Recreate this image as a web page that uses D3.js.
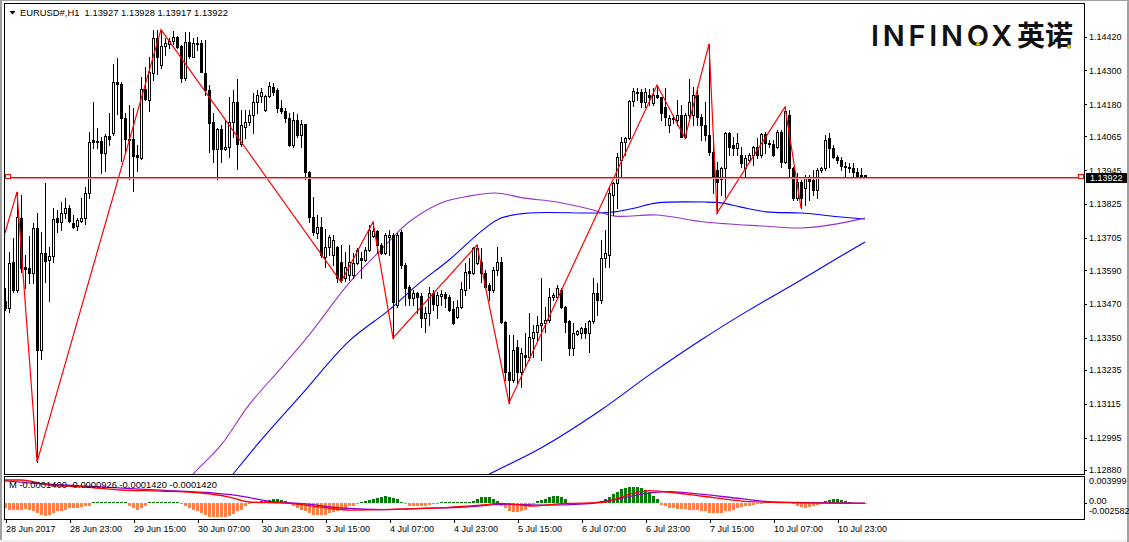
<!DOCTYPE html>
<html><head><meta charset="utf-8">
<script src="https://cdn.jsdelivr.net/npm/d3@7"></script>
<style>
body{margin:0;background:#fff;}
svg{display:block;font-family:"Liberation Sans",Arial,sans-serif;}
</style>
</head><body>
<svg id="c" width="1129" height="542"></svg>
<script>
// ---------------- DATA ----------------
const symbolTitle = "EURUSD#,H1  1.13927 1.13928 1.13917 1.13922";
const subTitle = "M -0.0001400 -0.0000926 -0.0001420 -0.0001420";
const bidPrice = 1.13922;

const opens = [
1.13480,1.13455,1.13619,1.13519,1.13775,1.13601,1.13598,1.13580,1.13740,1.13306,
1.13651,1.13626,1.13640,1.13775,1.13761,1.13793,1.13811,1.13757,1.13747,1.13765,
1.13775,1.13864,1.14052,1.14049,1.14049,1.14006,1.14066,1.14077,1.14259,1.14251,
1.14131,1.14056,1.14056,1.13999,1.13988,1.14234,1.14196,1.14291,1.14415,1.14319,
1.14387,1.14394,1.14404,1.14419,1.14387,1.14273,1.14401,1.14347,1.14397,1.14397,
1.14291,1.14230,1.14116,1.14020,1.14092,1.14020,1.14028,1.14116,1.14187,1.14038,
1.14099,1.14116,1.14141,1.14187,1.14209,1.14159,1.14209,1.14241,1.14230,1.14166,
1.14155,1.14131,1.14035,1.14124,1.14070,1.14109,1.13939,1.13779,1.13722,1.13743,
1.13637,1.13672,1.13644,1.13672,1.13619,1.13562,1.13573,1.13573,1.13615,1.13633,
1.13626,1.13662,1.13711,1.13729,1.13679,1.13651,1.13708,1.13715,1.13466,1.13725,
1.13608,1.13530,1.13491,1.13509,1.13498,1.13420,1.13438,1.13509,1.13466,1.13498,
1.13505,1.13494,1.13452,1.13424,1.13459,1.13519,1.13587,1.13580,1.13615,1.13619,
1.13580,1.13537,1.13519,1.13590,1.13619,1.13406,1.13228,1.13200,1.13317,1.13228,
1.13288,1.13281,1.13349,1.13370,1.13395,1.13402,1.13413,1.13494,1.13494,1.13519,
1.13459,1.13409,1.13313,1.13363,1.13366,1.13384,1.13366,1.13409,1.13509,1.13484,
1.13633,1.13644,1.13857,1.13900,1.13981,1.14045,1.14059,1.14191,1.14223,1.14223,
1.14187,1.14212,1.14184,1.14212,1.14205,1.14170,1.14106,1.14127,1.14124,1.14141,
1.14063,1.14141,1.14141,1.14212,1.14134,1.14106,1.14070,1.14010,1.13946,1.13914,
1.13953,1.14077,1.14035,1.14024,1.13999,1.13953,1.13981,1.13999,1.14028,1.13999,
1.14074,1.14038,1.14038,1.14028,1.14081,1.13974,1.14141,1.13953,1.13846,1.13903,
1.13882,1.13917,1.13910,1.13875,1.13946,1.13953,1.14059,1.14024,1.13992,1.13981,
1.13960,1.13957,1.13953,1.13939,1.13928,1.13927];

const highs = [
1.13526,1.13654,1.13704,1.13868,1.13857,1.13644,1.13711,1.13757,1.13793,1.13725,
1.13900,1.13672,1.13811,1.13804,1.13832,1.13846,1.13821,1.13786,1.13775,1.13846,
1.13885,1.14081,1.14187,1.14095,1.14063,1.14074,1.14148,1.14323,1.14344,1.14259,
1.14148,1.14177,1.14166,1.14035,1.14276,1.14312,1.14347,1.14443,1.14443,1.14445,
1.14415,1.14415,1.14440,1.14422,1.14390,1.14436,1.14436,1.14415,1.14419,1.14408,
1.14408,1.14248,1.14148,1.14095,1.14106,1.14124,1.14205,1.14230,1.14269,1.14159,
1.14159,1.14159,1.14219,1.14230,1.14237,1.14212,1.14259,1.14255,1.14237,1.14196,
1.14166,1.14148,1.14152,1.14145,1.14124,1.14111,1.13942,1.13850,1.13786,1.13779,
1.13736,1.13715,1.13715,1.13675,1.13679,1.13654,1.13679,1.13651,1.13669,1.13654,
1.13672,1.13750,1.13761,1.13733,1.13686,1.13722,1.13733,1.13722,1.13722,1.13733,
1.13615,1.13537,1.13519,1.13512,1.13509,1.13459,1.13530,1.13519,1.13512,1.13519,
1.13512,1.13502,1.13480,1.13484,1.13548,1.13615,1.13633,1.13672,1.13679,1.13669,
1.13590,1.13544,1.13601,1.13672,1.13637,1.13409,1.13359,1.13359,1.13342,1.13313,
1.13366,1.13438,1.13395,1.13427,1.13562,1.13459,1.13526,1.13509,1.13537,1.13526,
1.13462,1.13413,1.13402,1.13377,1.13388,1.13402,1.13413,1.13562,1.13544,1.13697,
1.13733,1.13885,1.13903,1.14006,1.14063,1.14063,1.14196,1.14237,1.14237,1.14234,
1.14237,1.14234,1.14237,1.14248,1.14207,1.14237,1.14141,1.14141,1.14196,1.14177,
1.14148,1.14269,1.14241,1.14241,1.14145,1.14187,1.14394,1.14063,1.13974,1.13957,
1.14081,1.14081,1.14063,1.14077,1.14028,1.13999,1.14006,1.14031,1.14059,1.14077,
1.14081,1.14052,1.14052,1.14088,1.14088,1.14170,1.14159,1.13957,1.13935,1.13910,
1.13928,1.13928,1.13946,1.13953,1.13957,1.14070,1.14077,1.14035,1.13999,1.13992,
1.13974,1.13971,1.13971,1.13953,1.13953,1.13928];

const lows = [
1.13448,1.13441,1.13512,1.13512,1.13583,1.13526,1.13544,1.13544,1.12908,1.13274,
1.13548,1.13480,1.13619,1.13725,1.13733,1.13775,1.13761,1.13740,1.13733,1.13761,
1.13754,1.13846,1.14024,1.14024,1.13935,1.13942,1.14035,1.14070,1.14145,1.13978,
1.14006,1.13914,1.13871,1.13942,1.13985,1.14196,1.14155,1.14266,1.14287,1.14308,
1.14355,1.14380,1.14394,1.14380,1.14259,1.14266,1.14344,1.14347,1.14372,1.14294,
1.14212,1.14010,1.13974,1.13914,1.13974,1.14017,1.13992,1.14063,1.13949,1.14031,
1.14059,1.14106,1.14077,1.14148,1.14187,1.14155,1.14205,1.14212,1.14152,1.14148,
1.14116,1.14031,1.14028,1.14063,1.14028,1.13914,1.13761,1.13715,1.13704,1.13637,
1.13601,1.13644,1.13608,1.13548,1.13548,1.13551,1.13555,1.13562,1.13612,1.13562,
1.13622,1.13658,1.13708,1.13651,1.13648,1.13648,1.13644,1.13349,1.13459,1.13598,
1.13466,1.13466,1.13466,1.13438,1.13388,1.13370,1.13395,1.13448,1.13420,1.13466,
1.13459,1.13445,1.13399,1.13420,1.13455,1.13502,1.13526,1.13576,1.13612,1.13548,
1.13526,1.13484,1.13512,1.13573,1.13402,1.13200,1.13118,1.13192,1.13189,1.13175,
1.13246,1.13271,1.13281,1.13342,1.13271,1.13370,1.13406,1.13484,1.13491,1.13455,
1.13370,1.13288,1.13288,1.13359,1.13349,1.13349,1.13299,1.13402,1.13431,1.13473,
1.13601,1.13601,1.13786,1.13811,1.13921,1.13999,1.14056,1.14173,1.14196,1.14170,
1.14170,1.14177,1.14177,1.14202,1.14124,1.14106,1.14081,1.14113,1.14106,1.14063,
1.14059,1.14131,1.14106,1.14106,1.14052,1.14052,1.13999,1.13864,1.13793,1.13857,
1.13850,1.13999,1.13999,1.13999,1.13957,1.13917,1.13974,1.13964,1.13988,1.13992,
1.14006,1.14028,1.13996,1.14024,1.13957,1.13971,1.13921,1.13839,1.13839,1.13811,
1.13821,1.13839,1.13857,1.13846,1.13939,1.13946,1.13957,1.13988,1.13971,1.13946,
1.13921,1.13939,1.13917,1.13917,1.13917,1.13917];

const closes = [
1.13455,1.13615,1.13519,1.13779,1.13598,1.13594,1.13580,1.13740,1.13306,1.13651,
1.13622,1.13640,1.13772,1.13761,1.13793,1.13811,1.13765,1.13743,1.13768,1.13775,
1.13864,1.14045,1.14045,1.14047,1.14006,1.14066,1.14056,1.14259,1.14251,1.14131,
1.14056,1.14052,1.13996,1.13992,1.14234,1.14198,1.14294,1.14415,1.14347,1.14387,
1.14397,1.14404,1.14418,1.14383,1.14273,1.14401,1.14351,1.14397,1.14394,1.14294,
1.14230,1.14113,1.14020,1.14092,1.14020,1.14028,1.14116,1.14187,1.14038,1.14106,
1.14116,1.14141,1.14187,1.14212,1.14223,1.14209,1.14244,1.14223,1.14166,1.14155,
1.14131,1.14035,1.14124,1.14070,1.14109,1.13939,1.13779,1.13725,1.13743,1.13644,
1.13672,1.13708,1.13697,1.13562,1.13555,1.13601,1.13619,1.13615,1.13662,1.13626,
1.13662,1.13733,1.13729,1.13679,1.13651,1.13715,1.13715,1.13477,1.13715,1.13608,
1.13526,1.13491,1.13509,1.13494,1.13420,1.13438,1.13509,1.13470,1.13502,1.13505,
1.13491,1.13448,1.13402,1.13459,1.13523,1.13583,1.13580,1.13669,1.13669,1.13580,
1.13530,1.13519,1.13590,1.13619,1.13406,1.13228,1.13200,1.13306,1.13228,1.13295,
1.13281,1.13352,1.13370,1.13395,1.13402,1.13413,1.13494,1.13502,1.13526,1.13459,
1.13406,1.13313,1.13366,1.13374,1.13384,1.13366,1.13409,1.13509,1.13484,1.13633,
1.13651,1.13864,1.13900,1.13992,1.14045,1.14059,1.14191,1.14227,1.14219,1.14187,
1.14223,1.14205,1.14212,1.14205,1.14148,1.14134,1.14131,1.14131,1.14141,1.14063,
1.14141,1.14187,1.14212,1.14134,1.14106,1.14070,1.14010,1.13917,1.13903,1.13953,
1.14077,1.14028,1.14024,1.14042,1.13971,1.13988,1.13999,1.14028,1.13999,1.14074,
1.14042,1.14042,1.13999,1.14081,1.13974,1.14155,1.13953,1.13846,1.13903,1.13846,
1.13917,1.13907,1.13875,1.13946,1.13953,1.14052,1.14024,1.13992,1.13981,1.13960,
1.13957,1.13953,1.13939,1.13921,1.13921,1.13922];

// ZigZag vertices (bar index, price)
const zigBars   = [0, 3, 8, 39, 84, 92, 97, 118, 126, 163, 170, 176, 178, 195, 199];
const zigPrices = [1.13722,1.13868,1.12908,1.14445,1.13548,1.13761,1.13349,1.13679,1.13118,1.14248,1.14059,1.14394,1.13793,1.14170,1.13811];

// Moving averages sampled at bar positions
const maVioletBars = [45,47,54,61,69,76,86,94,101,109,116,122.5,130,138,147,152.5,163,175,189,199,206,215];
const maVioletVals = [1.12830,1.12865,1.12968,1.13111,1.13242,1.13359,1.13544,1.13662,1.13761,1.13829,1.13853,1.13864,1.13846,1.13832,1.13804,1.13782,1.13786,1.13761,1.13747,1.13740,1.13750,1.13775];
const maBlueBars = [55,57,64,74,86,96,103,111,119.5,124,131,147,152.5,157.5,163,175,179,184,190.5,199,209,215];
const maBlueVals = [1.12830,1.12865,1.12986,1.13146,1.13338,1.13448,1.13537,1.13626,1.13733,1.13775,1.13793,1.13793,1.13797,1.13811,1.13829,1.13832,1.13829,1.13814,1.13797,1.13793,1.13779,1.13772];
const maSlowBars = [117.5,121,134,149,161,174,186,199,209,215];
const maSlowVals = [1.12837,1.12865,1.12958,1.13093,1.13217,1.13342,1.13448,1.13555,1.13640,1.13690];

// MACD-like indicator
const histVals = [
-0.0009,-0.0011,-0.0012,-0.0012,-0.0011,-0.0010,-0.0011,-0.0013,
-0.0016,-0.0020,-0.0021,-0.0020,-0.0017,-0.0014,
-0.0013,-0.0011,-0.0009,-0.0008,-0.0008,-0.0007,-0.0006,-0.0005,
0.00005,0.00005,0.00005,0.00005,0.00005,0.00005,0.00005,0.00005,0.00005,
-0.0005,-0.0009,-0.0011,-0.0009,-0.0005,
0.00005,0.00005,0.00005,0.00005,0.00005,0.00005,0.00005,0.00005,
-0.0003,-0.0005,-0.0008,-0.0011,-0.0014,-0.0016,-0.0019,-0.0022,-0.0023,-0.0023,-0.0023,-0.0022,-0.0021,-0.0018,-0.0014,-0.0011,-0.0006,-0.0003,
0.00005,0.00005,
0.0002,0.0003,0.0004,0.0005,0.0005,0.0004,0.0002,
-0.0003,-0.0005,-0.0009,-0.0012,-0.0014,-0.0017,-0.0019,-0.0020,-0.0020,-0.0019,-0.0017,-0.0015,-0.0014,-0.0012,-0.0009,-0.0006,-0.0005,-0.0002,
0.0001,0.0002,0.0004,0.0005,0.0007,0.0009,0.0010,0.0009,0.0007,0.0005,
0.00005,
-0.0003,-0.0005,-0.0005,-0.0005,-0.0005,-0.0005,-0.0004,-0.0003,-0.0002,
0.00005,0.00005,0.00005,0.00005,0.00005,0.00005,0.00005,0.00005,
0.0003,0.0005,0.0008,0.0009,0.0008,0.0005,0.0003,
-0.0005,-0.0009,-0.0013,-0.0015,-0.0015,-0.0014,-0.0011,-0.0007,-0.0003,
0.0002,0.0004,0.0006,0.0008,0.0010,0.0011,0.0009,0.0005,
-0.0002,-0.0002,-0.0002,-0.0002,-0.0002,-0.0002,-0.0002,
0.0001,0.0003,0.0005,0.0009,0.0014,0.0017,0.0021,0.0023,0.0025,0.0025,0.0024,0.0023,0.0020,0.0016,0.0011,0.0005,
-0.0004,-0.0006,-0.0008,-0.0009,-0.0010,-0.0010,-0.0010,-0.0011,-0.0011,-0.0012,-0.0013,-0.0014,-0.0016,-0.0017,-0.0017,-0.0016,-0.0014,-0.0013,-0.0011,-0.0009,-0.0007,-0.0005,-0.0005,-0.0004,-0.0003,-0.0002,
0.00005,0.00005,0.00005,0.00005,0.00005,0.00005,0.00005,
-0.0003,-0.0005,-0.0007,-0.0008,-0.0007,-0.0005,-0.0004,-0.0002,
0.0002,0.0004,0.0005,0.0005,0.0004,0.0002,0.0001,
-0.0002,-0.0002,-0.00014,-0.00014];

const macdBars = [0,4,11,20,29,39,49,56,61,70,79,86,99,111,119,124,132,140,149,157,161,165,174,182,186,215];
const macdVals = [0.00353,0.00353,0.00274,0.00243,0.00196,0.0018,0.00149,0.00086,0.00008,-0.00008,-0.0007,-0.00118,-0.00102,-0.00075,-0.00039,-0.00013,-0.00055,-0.00013,-0.00003,0.00144,0.00185,0.00169,0.00102,0.00039,0.00013,-0.00014];
const signalBars = [0,10,25,40,52,60,66,75,85,95,105,115,125,135,145,152,160,166,174,184,192,215];
const signalVals = [0.0034,0.0029,0.0024,0.0019,0.0015,0.0009,0.0002,-0.0002,-0.0009,-0.0011,-0.0009,-0.0007,-0.0003,-0.0004,-0.0002,0.0004,0.0014,0.0017,0.0013,0.0006,0.0001,-0.00009];

const priceTicks = [1.14420,1.14300,1.14180,1.14065,1.13945,1.13825,1.13705,1.13590,1.13470,1.13350,1.13235,1.13115,1.12995,1.12880];
const subTicks = [0.003999, 0.00, -0.002582];
const subTickLabels = ["0.003999", "0.00", "-0.002582"];
const dateBars = [0,16,32,48,64,80,96,112,128,144,160,176,192,208];
const dateLabels = ["28 Jun 2017","28 Jun 23:00","29 Jun 15:00","30 Jun 07:00","30 Jun 23:00","3 Jul 15:00","4 Jul 07:00","4 Jul 23:00","5 Jul 15:00","6 Jul 07:00","6 Jul 23:00","7 Jul 15:00","10 Jul 07:00","10 Jul 23:00"];

// ---------------- LAYOUT ----------------
const W = 1129, H = 542;
const L = 4, R = 1084, T = 3, B = 474, sT = 476, sB = 519;

const svg = d3.select("#c");
svg.append("rect").attr("width", W).attr("height", H).attr("fill", "#fff");
svg.append("rect").attr("x", 0).attr("y", 0).attr("width", 2).attr("height", H).attr("fill", "#a0a0a0");
svg.append("rect").attr("x", 0).attr("y", 540).attr("width", W).attr("height", 2).attr("fill", "#f0f0f0");
svg.append("rect").attr("x", 1127).attr("y", 0).attr("width", 2).attr("height", H).attr("fill", "#a0a0a0");
svg.append("rect").attr("x", 0).attr("y", 0).attr("width", W).attr("height", 1).attr("fill", "#a0a0a0");

const x = d3.scaleLinear().domain([0, 215]).range([5, 865]);
const y = d3.scaleLinear().domain([1.128655, 1.145359]).range([474, 4]);
const ys = d3.scaleLinear().domain([-0.002582, 0.003999]).range([519, 477]);

const defs = svg.append("defs");
defs.append("clipPath").attr("id", "clipMain").append("rect").attr("x", L + 1).attr("y", T + 1).attr("width", R - L - 1).attr("height", B - T - 1);
defs.append("clipPath").attr("id", "clipSub").append("rect").attr("x", L + 1).attr("y", sT + 1).attr("width", R - L - 1).attr("height", sB - sT - 1);

// logo
const logo = svg.append("g");
logo.append("text").attr("x", 871).attr("y", 46).attr("font-family", "Inter, 'Liberation Sans', sans-serif")
  .attr("font-size", 29).attr("font-weight", 600).attr("letter-spacing", 3.7).attr("fill", "#111").text("INFINOX");
logo.append("text").attr("x", 1017).attr("y", 46).attr("font-family", "'Noto Sans CJK SC', sans-serif")
  .attr("font-size", 28).attr("font-weight", 700).attr("fill", "#111").text("英诺");
logo.append("path").attr("d", "M975.5,45.5 L978,41 L980.5,45.5 Z").attr("fill", "#f5c400");
logo.append("circle").attr("cx", 1069).attr("cy", 46.5).attr("r", 1.9).attr("fill", "#f5c400");

// main plot
const gm = svg.append("g").attr("clip-path", "url(#clipMain)");

const lineGen = d3.line().x(d => x(d[0])).y(d => y(d[1])).curve(d3.curveCatmullRom);
gm.append("path").datum(maSlowBars.map((b, k) => [b, maSlowVals[k]])).attr("d", lineGen)
  .attr("fill", "none").attr("stroke", "#0000ff").attr("stroke-width", 1.1);
gm.append("path").datum(maBlueBars.map((b, k) => [b, maBlueVals[k]])).attr("d", lineGen)
  .attr("fill", "none").attr("stroke", "#0000ff").attr("stroke-width", 1.1);
gm.append("path").datum(maVioletBars.map((b, k) => [b, maVioletVals[k]])).attr("d", lineGen)
  .attr("fill", "none").attr("stroke", "#9932cc").attr("stroke-width", 1.1);

// candles
const cg = gm.append("g").attr("shape-rendering", "crispEdges");
opens.forEach((o, i) => {
  const c = Math.round(x(i));
  const h = highs[i], l = lows[i], cl = closes[i];
  const yh = Math.round(y(h)), yl = Math.round(y(l));
  cg.append("line").attr("x1", c + 0.5).attr("x2", c + 0.5).attr("y1", yh).attr("y2", yl + 1).attr("stroke", "#000");
  const top = Math.round(y(Math.max(o, cl))), bot = Math.round(y(Math.min(o, cl)));
  if (bot - top < 1) {
    cg.append("line").attr("x1", c - 1).attr("x2", c + 2).attr("y1", top + 0.5).attr("y2", top + 0.5).attr("stroke", "#000");
  } else if (cl >= o) {
    cg.append("rect").attr("x", c - 0.5).attr("y", top + 0.5).attr("width", 2).attr("height", bot - top)
      .attr("fill", "#fff").attr("stroke", "#000");
  } else {
    cg.append("rect").attr("x", c - 1).attr("y", top).attr("width", 3).attr("height", bot - top + 1).attr("fill", "#000");
  }
});

// zigzag
gm.append("path").datum(zigBars.map((b, k) => [b, zigPrices[k]]))
  .attr("d", d3.line().x(d => x(d[0])).y(d => y(d[1])))
  .attr("fill", "none").attr("stroke", "#ff0000").attr("stroke-width", 1.2);

// frames
svg.append("rect").attr("x", L + 0.5).attr("y", T + 0.5).attr("width", R - L).attr("height", B - T)
  .attr("fill", "none").attr("stroke", "#000").attr("shape-rendering", "crispEdges");
svg.append("rect").attr("x", L + 0.5).attr("y", sT + 0.5).attr("width", R - L).attr("height", sB - sT)
  .attr("fill", "none").attr("stroke", "#000").attr("shape-rendering", "crispEdges");

// bid line (drawn on top)
const by = Math.round(y(bidPrice));
svg.append("rect").attr("x", L + 1).attr("y", by).attr("width", R - L - 1).attr("height", 2).attr("fill", "#ff0000");
svg.append("rect").attr("x", L + 1).attr("y", by + 1).attr("width", R - L - 1).attr("height", 1).attr("fill", "#ff9090");
svg.append("rect").attr("x", 5.5).attr("y", by - 2.5).attr("width", 5).attr("height", 4).attr("fill", "#fff").attr("stroke", "#ff0000").attr("shape-rendering", "crispEdges");
svg.append("rect").attr("x", 1078.5).attr("y", by - 2.5).attr("width", 5).attr("height", 4).attr("fill", "#fff").attr("stroke", "#ff0000").attr("shape-rendering", "crispEdges");

// price axis
const ax = svg.append("g").attr("transform", `translate(${R},0)`)
  .call(d3.axisRight(y).tickValues(priceTicks).tickFormat(d3.format(".5f")).tickSize(3).tickPadding(2));
ax.select(".domain").remove();
ax.selectAll("line").attr("stroke", "#000").attr("shape-rendering", "crispEdges");
ax.selectAll("text").attr("font-size", 9).attr("font-family", "'Liberation Sans',Arial,sans-serif").attr("fill", "#000");

// bid label
svg.append("rect").attr("x", 1086).attr("y", by - 4).attr("width", 41).attr("height", 10).attr("fill", "#000");
svg.append("text").attr("x", 1090).attr("y", by + 4.3).attr("font-size", 9).attr("fill", "#fff").text(d3.format(".5f")(bidPrice));

// title
svg.append("path").attr("d", "M9.5,11 L15.5,11 L12.5,14.5 Z").attr("fill", "#000");
svg.append("text").attr("x", 20).attr("y", 16).attr("font-size", 9.4).attr("fill", "#000").style("white-space", "pre").text(symbolTitle);

// sub window
const gs = svg.append("g").attr("clip-path", "url(#clipSub)");
const hg = gs.append("g").attr("shape-rendering", "crispEdges");
const y0 = Math.round(ys(0));
histVals.forEach((v, i) => {
  const c = Math.round(x(i));
  const yv = Math.round(ys(v));
  if (v >= 0) {
    const top = Math.min(yv, y0 - 1);
    hg.append("rect").attr("x", c - 1).attr("y", top).attr("width", 3).attr("height", y0 - top).attr("fill", "#008000");
  } else {
    const bot = Math.max(yv, y0 + 1);
    hg.append("rect").attr("x", c - 1).attr("y", y0).attr("width", 3).attr("height", bot - y0).attr("fill", "#ff8040");
  }
});
const sLine = d3.line().x(d => x(d[0])).y(d => ys(d[1])).curve(d3.curveMonotoneX);
gs.append("path").datum(signalBars.map((b, k) => [b, signalVals[k]])).attr("d", sLine)
  .attr("fill", "none").attr("stroke", "#9400d3").attr("stroke-width", 1.3);
gs.append("path").datum(macdBars.map((b, k) => [b, macdVals[k]])).attr("d", sLine)
  .attr("fill", "none").attr("stroke", "#ff0000").attr("stroke-width", 1.3);

svg.append("text").attr("x", 9).attr("y", 488).attr("font-size", 9.4).attr("fill", "#000").text(subTitle);

// sub axis labels (kept inside the sub-window band, separated)
const subLabelPos = [483.5, 503.5, 514];
subTicks.forEach((v, k) => {
  svg.append("text").attr("x", 1089).attr("y", subLabelPos[k]).attr("font-size", 9).attr("fill", "#000").text(subTickLabels[k]);
});
svg.append("line").attr("x1", R).attr("x2", R + 3).attr("y1", y0 + 0.5).attr("y2", y0 + 0.5).attr("stroke", "#000").attr("shape-rendering", "crispEdges");

// date axis
const dx = svg.append("g").attr("transform", `translate(0,${sB})`)
  .call(d3.axisBottom(x).tickValues(dateBars).tickFormat((d, k) => dateLabels[k]).tickSize(4));
dx.select(".domain").remove();
dx.selectAll("line").attr("stroke", "#000").attr("transform", "translate(0.5,0)").attr("shape-rendering", "crispEdges");
dx.selectAll("text").attr("font-size", 9).attr("font-family", "'Liberation Sans',Arial,sans-serif")
  .attr("fill", "#000").attr("text-anchor", "start").attr("x", 0.5).attr("y", 13).attr("dy", null);
</script>
</body></html>
